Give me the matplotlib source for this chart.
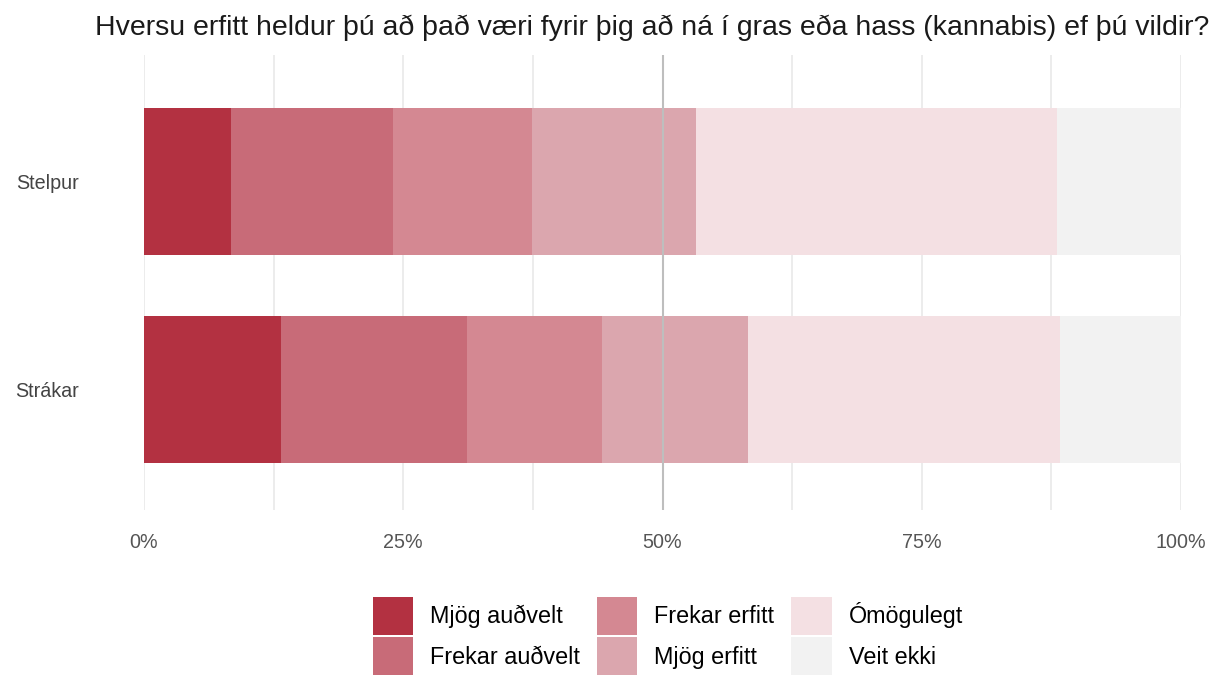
import numpy as np
import matplotlib
matplotlib.use("Agg")
import matplotlib.pyplot as plt
from matplotlib.patches import Patch

plt.rcParams['font.family'] = ['Liberation Sans', 'DejaVu Sans']

# Gögn (hlutfall svara, %)
groups = ['Strákar', 'Stelpur']
answers = ['Mjög auðvelt', 'Frekar auðvelt', 'Frekar erfitt',
           'Mjög erfitt', 'Ómögulegt', 'Veit ekki']
strakar = [13.2, 17.9, 13.1, 14.0, 30.1, 11.7]
stelpur = [8.4, 15.6, 13.4, 15.8, 34.8, 12.0]
colors = ['#B33141', '#C86B78', '#D48892', '#DBA6AE', '#F4E0E3', '#F2F2F2']

title = 'Hversu erfitt heldur þú að það væri fyrir þig að ná í gras eða hass (kannabis) ef þú vildir?'

data = np.array([strakar, stelpur]) / 100.0

fig = plt.figure(figsize=(12.22, 6.79), dpi=100)
ax = fig.add_axes([144 / 1222, 1 - 510 / 679, 1037 / 1222, 455 / 679])

# grid
for g in np.arange(0, 1.0001, 0.125):
    ax.axvline(g, color='#EBEBEB', lw=1.3, zorder=0)

y = np.arange(len(groups))
left = np.zeros(len(groups))
for i, ans in enumerate(answers):
    ax.barh(y, data[:, i], left=left, height=0.707, color=colors[i],
            label=ans, zorder=2)
    left += data[:, i]

ax.axvline(0.5, color='#BEBEBE', lw=1.5, zorder=3)

ax.set_xlim(0, 1)
ax.set_ylim(-0.58, 1.608)
ax.set_xticks([0, 0.25, 0.5, 0.75, 1])
ax.set_xticklabels(['0%', '25%', '50%', '75%', '100%'])
ax.set_yticks(y)
ax.set_yticklabels(groups)
ax.tick_params(axis='x', length=0, pad=16.5, labelsize=14.2, labelcolor='#555555')
ax.tick_params(axis='y', length=0, pad=47, labelsize=14.2, labelcolor='#444444')
for s in ax.spines.values():
    s.set_visible(False)

fig.text(652 / 1222, 1 - 35 / 679, title, ha='center', va='baseline',
         fontsize=20.5, color='#1a1a1a')

handles = [Patch(facecolor=c, edgecolor='none') for c in colors]
fig.legend(handles, answers, ncol=3, loc='center',
           bbox_to_anchor=(668 / 1222, 1 - 636 / 679), frameon=False,
           fontsize=16.8, handlelength=1.72, handleheight=2.15,
           handletextpad=0.73, columnspacing=0.73, labelspacing=0.09,
           borderpad=0)

fig.savefig('out.png', dpi=100)
